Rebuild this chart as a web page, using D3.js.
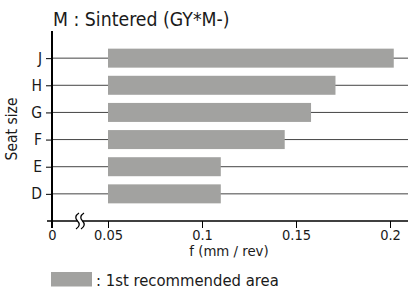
<!DOCTYPE html>
<html><head><meta charset="utf-8">
<script src="https://cdn.jsdelivr.net/npm/d3@7"></script>
<style>
html,body{margin:0;padding:0;background:#fff;}
svg{display:block;font-family:"DejaVu Sans Condensed","DejaVu Sans",sans-serif;font-stretch:condensed;}
</style></head>
<body>
<svg id="chart" width="408" height="294"></svg>
<script>
const categories = ["D","E","F","G","H","J"];
const startValues = [0.05,0.05,0.05,0.05,0.05,0.05];
const endValues = [0.11,0.11,0.144,0.158,0.171,0.202];
const xTicks = [0,0.05,0.1,0.15,0.2];
const xTickLabels = ["0","0.05","0.1","0.15","0.2"];
const title = "M : Sintered (GY*M-)";
const yTitle = "Seat size";
const xTitle = "f (mm / rev)";
const legendLabel = ": 1st recommended area";

const svg = d3.select("#chart");
const barColor = "#a2a2a0";
const fontFam = '"DejaVu Sans Condensed","DejaVu Sans",sans-serif';

const x = d3.scaleLinear().domain([0,0.05,0.2]).range([52,108,390]);
const y = d3.scalePoint().domain(categories).range([221,31]).padding(1);

// gridlines
svg.append("g").selectAll("line").data(categories).join("line")
  .attr("x1",52).attr("x2",408)
  .attr("y1",d=>y(d)).attr("y2",d=>y(d))
  .attr("stroke","#444").attr("stroke-width",1);

// bars
svg.append("g").selectAll("rect").data(categories).join("rect")
  .attr("x",(d,i)=>x(startValues[i]))
  .attr("width",(d,i)=>x(endValues[i])-x(startValues[i]))
  .attr("y",d=>y(d)-9.5).attr("height",19)
  .attr("fill",barColor);

// x axis
const xAxis = d3.axisBottom(x).tickValues(xTicks)
  .tickFormat((d,i)=>xTickLabels[i]).tickSize(7).tickSizeOuter(0).tickPadding(2);
const gx = svg.append("g").attr("transform","translate(0,221)").call(xAxis);
gx.select(".domain").remove();
gx.append("line").attr("x1",47).attr("x2",408).attr("y1",0).attr("y2",0)
  .attr("stroke","#000").attr("stroke-width",1.6);
gx.selectAll(".tick line").attr("stroke","#000");
gx.selectAll(".tick text").attr("font-size",14.5).attr("fill","#1a1a1a")
  .attr("font-family",fontFam);

// y axis
const yAxis = d3.axisLeft(y).tickSize(6).tickSizeOuter(0).tickPadding(4);
const gy = svg.append("g").attr("transform","translate(52,0)").call(yAxis);
gy.select(".domain").remove();
gy.append("line").attr("x1",0).attr("x2",0).attr("y1",31).attr("y2",228)
  .attr("stroke","#000").attr("stroke-width",2);
gy.selectAll(".tick line").attr("stroke","#000");
gy.selectAll(".tick text").attr("font-size",15.5).attr("fill","#1a1a1a")
  .attr("font-family",fontFam);

// axis break symbol
const bx = x(0.025);
svg.append("rect").attr("x",bx-2.5).attr("y",218).attr("width",5).attr("height",6).attr("fill","#fff");
[bx-2.5,bx+2.5].forEach(cx=>{
  svg.append("path")
    .attr("d",`M${cx+1.5},213 C${cx-2.5},215.5 ${cx-2.5},218.5 ${cx},221 S${cx+2.5},226.5 ${cx-1.5},229`)
    .attr("fill","none").attr("stroke","#000").attr("stroke-width",1.3);
});

// title
svg.append("text").attr("x",53).attr("y",26).attr("font-size",19.3).attr("fill","#1a1a1a")
  .text(title);

// y title
svg.append("text").attr("transform","translate(17,129) rotate(-90)")
  .attr("text-anchor","middle").attr("font-size",15.5).attr("fill","#1a1a1a").text(yTitle);

// x title
svg.append("text").attr("x",229).attr("y",256).attr("text-anchor","middle")
  .attr("font-size",14.8).attr("fill","#1a1a1a").text(xTitle);

// legend
svg.append("rect").attr("x",51).attr("y",272).attr("width",41).attr("height",14.5).attr("fill",barColor);
svg.append("text").attr("x",96).attr("y",286).attr("font-size",16.5).attr("fill","#1a1a1a").text(legendLabel);
</script>
</body></html>
